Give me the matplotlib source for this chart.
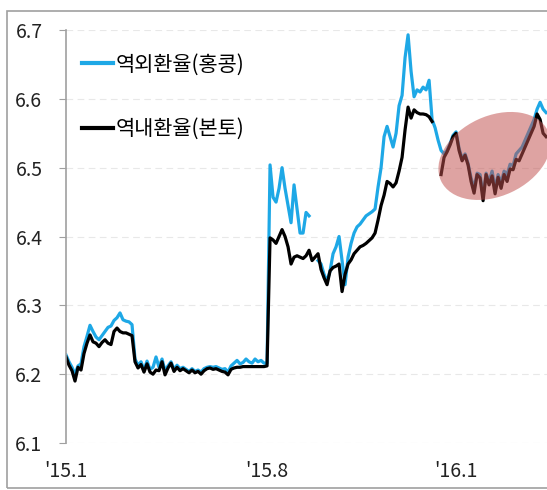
import numpy as np
import matplotlib
matplotlib.use("Agg")
import matplotlib.pyplot as plt
from matplotlib.patches import Ellipse, Rectangle
from matplotlib.transforms import IdentityTransform

plt.rcParams['font.family'] = ['Noto Sans CJK KR', 'DejaVu Sans']

nan = np.nan

# 역외환율(홍콩) - offshore CNH
offshore = [6.228, 6.218, 6.21, 6.20, 6.212, 6.215, 6.24, 6.255, 6.271, 6.262,
            6.254, 6.25, 6.256, 6.262, 6.268, 6.27, 6.278, 6.282, 6.289, 6.279,
            6.277, 6.276, 6.272, 6.222, 6.213, 6.218, 6.206, 6.219, 6.207, 6.21,
            6.225, 6.21, 6.222, 6.205, 6.212, 6.218, 6.207, 6.213, 6.208, 6.21,
            6.207, 6.204, 6.208, 6.204, 6.206, 6.203, 6.208, 6.21, 6.211, 6.21,
            6.211, 6.209, 6.207, 6.208, 6.203, 6.212, 6.216, 6.22, 6.215, 6.217,
            6.222, 6.218, 6.216, 6.222, 6.218, 6.22, 6.216, 6.216, 6.504, 6.457,
            6.45, 6.47, 6.50, 6.47, 6.445, 6.42, 6.475, 6.44, 6.405, 6.405,
            6.435, 6.43, nan, nan, 6.365, 6.36, 6.345, 6.335, 6.35, 6.375,
            6.385, 6.40, 6.365, 6.33, 6.37, 6.39, 6.405, 6.414, 6.418, 6.424,
            6.43, 6.433, 6.436, 6.44, 6.472, 6.50, 6.545, 6.56, 6.545, 6.53,
            6.55, 6.59, 6.605, 6.66, 6.693, 6.64, 6.603, 6.613, 6.61, 6.617,
            6.613, 6.627, 6.57, 6.558, 6.54, 6.525, 6.52, 6.525, 6.535, 6.547,
            6.552, 6.528, 6.513, 6.52, 6.506, 6.485, 6.47, 6.492, 6.49, 6.46,
            6.492, 6.48, 6.495, 6.47, 6.49, 6.478, 6.495, 6.49, 6.505, 6.503,
            6.52, 6.525, 6.53, 6.54, 6.55, 6.56, 6.57, 6.585, 6.595, 6.585, 6.58]

# 역내환율(본토) - onshore CNY
onshore = [6.225, 6.213, 6.205, 6.19, 6.21, 6.206, 6.23, 6.245, 6.257, 6.247,
           6.245, 6.24, 6.246, 6.25, 6.245, 6.243, 6.262, 6.267, 6.262, 6.26,
           6.26, 6.258, 6.256, 6.218, 6.209, 6.214, 6.203, 6.215, 6.203, 6.20,
           6.206, 6.205, 6.218, 6.199, 6.209, 6.216, 6.204, 6.21, 6.205, 6.208,
           6.205, 6.202, 6.206, 6.202, 6.204, 6.20, 6.205, 6.208, 6.209, 6.207,
           6.208, 6.206, 6.204, 6.203, 6.199, 6.207, 6.209, 6.21, 6.21, 6.211,
           6.211, 6.211, 6.211, 6.211, 6.211, 6.211, 6.211, 6.212, 6.398, 6.395,
           6.39, 6.40, 6.41, 6.40, 6.385, 6.36, 6.37, 6.372, 6.37, 6.368,
           6.372, 6.38, 6.365, 6.37, 6.375, 6.352, 6.34, 6.33, 6.35, 6.355,
           6.357, 6.36, 6.32, 6.345, 6.36, 6.366, 6.375, 6.38, 6.385, 6.387,
           6.39, 6.394, 6.398, 6.405, 6.424, 6.445, 6.46, 6.48, 6.477, 6.472,
           6.478, 6.495, 6.515, 6.555, 6.588, 6.572, 6.584, 6.58, 6.578, 6.578,
           6.577, 6.574, 6.567, nan, nan, 6.49, 6.515, 6.523, 6.533, 6.545,
           6.55, 6.525, 6.51, 6.518, 6.504, 6.48, 6.463, 6.49, 6.485, 6.452,
           6.49, 6.475, 6.488, 6.462, 6.486, 6.47, 6.49, 6.48, 6.498, 6.497,
           6.512, 6.51, 6.52, 6.53, 6.54, 6.55, 6.56, 6.578, 6.57, 6.55, 6.545]

tick_pos = [0, 67, 130]
tick_labels = ["'15.1", "'15.8", "'16.1"]
y_ticks = [6.1, 6.2, 6.3, 6.4, 6.5, 6.6, 6.7]

x = np.arange(len(onshore))

fig = plt.figure(figsize=(5.47, 4.90), dpi=100)
ax = fig.add_axes([66/547, 47/490, 481/547, 413/490])

ax.plot(x, offshore, color='#1EA8E6', lw=2.3, label='역외환율(홍콩)')
ax.plot(x, onshore, color='black', lw=2.3, label='역내환율(본토)')

ax.set_xlim(0, 160.3)
ax.set_ylim(6.1, 6.7)
ax.set_yticks(y_ticks)
ax.set_yticklabels(['%.1f' % v for v in y_ticks])
ax.set_xticks(tick_pos)
ax.set_xticklabels(tick_labels)
ax.tick_params(axis='y', labelsize=14, length=5, pad=12, color='#a0a0a0', labelcolor='#222222')
ax.tick_params(axis='x', labelsize=14, length=0, pad=13, labelcolor='#222222')

ax.yaxis.grid(True, color='#e8e8e8', lw=0.8, linestyle=(0, (6, 4)))
ax.set_axisbelow(True)
for s in ['top', 'right', 'bottom']:
    ax.spines[s].set_visible(False)
ax.spines['left'].set_color('#a0a0a0')
ax.spines['left'].set_linewidth(1.2)

leg = ax.legend(loc='upper left', bbox_to_anchor=(0.033, 0.943), frameon=False,
                fontsize=15, handlelength=1.5, handletextpad=0.1,
                labelspacing=2.05, borderpad=0, borderaxespad=0)
for h in leg.legend_handles:
    h.set_linewidth(3)

# highlight ellipse around recent period
cx, cy = ax.transData.transform((142.8, 6.517))
ax.add_patch(Ellipse((cx, cy), 118, 80, angle=25, transform=IdentityTransform(),
                     facecolor='#C0504D', edgecolor='none', alpha=0.52, zorder=5))

# outer frame
fig.add_artist(Rectangle((7/547, 2/490), 1.0, 477/490, transform=fig.transFigure,
                         fill=False, edgecolor='#a0a0a0', lw=1.2))

fig.savefig('out.png', dpi=100)
